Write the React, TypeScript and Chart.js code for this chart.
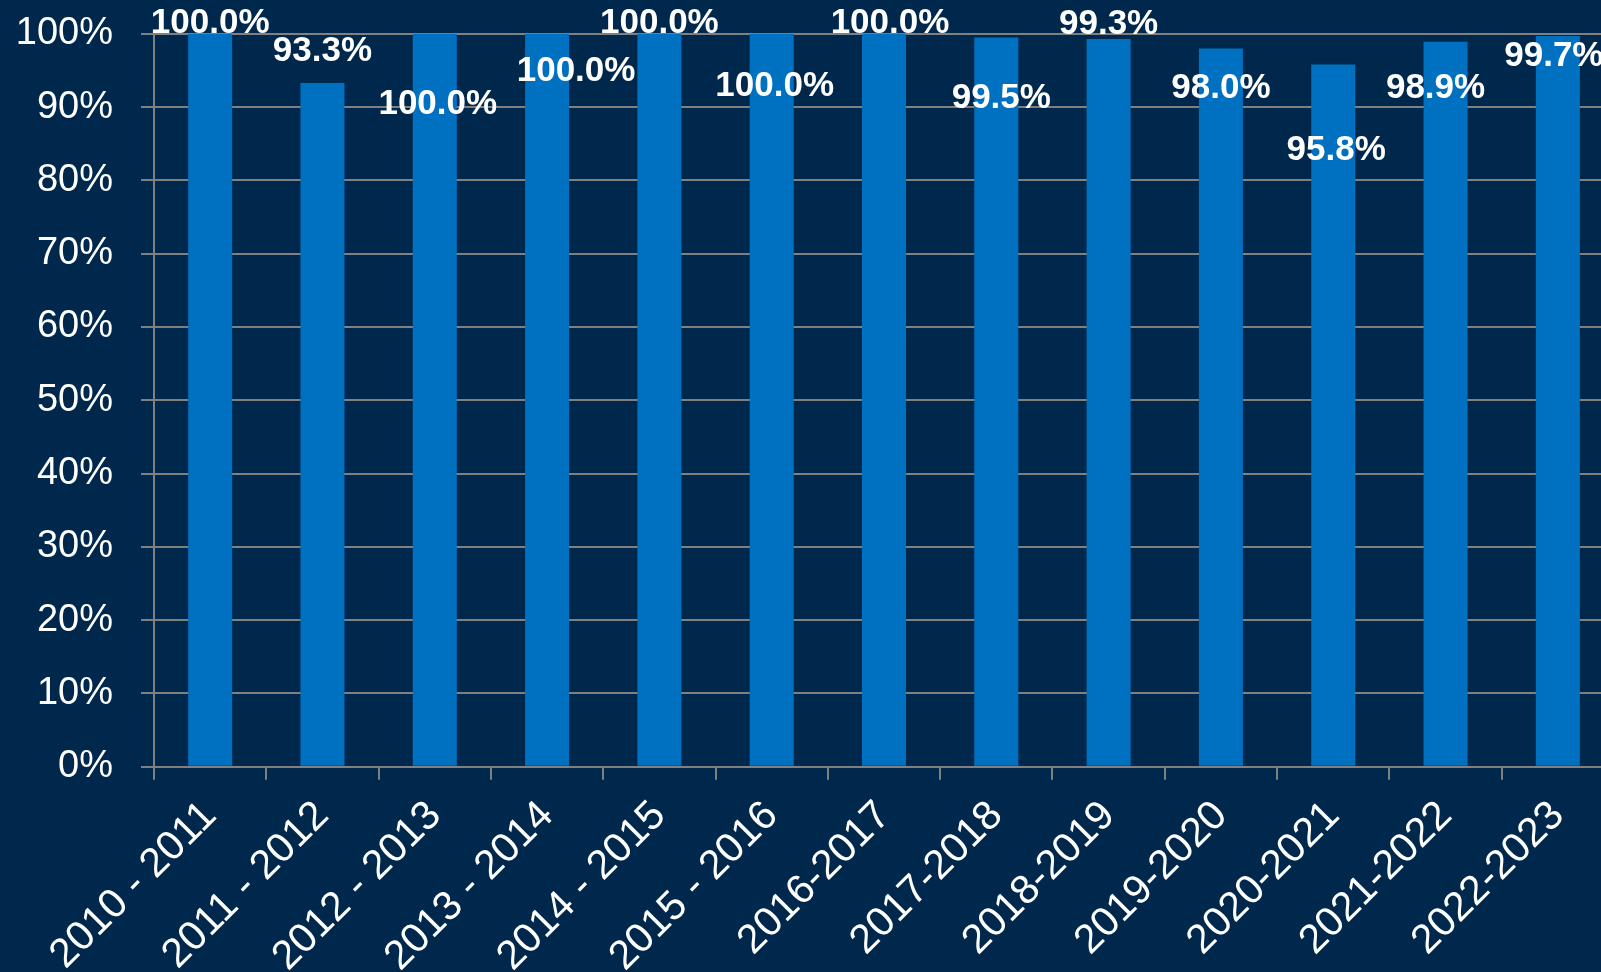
import React, { useEffect, useRef } from "react";
import { Chart, registerables } from "chart.js";

Chart.register(...registerables);

const categories = [
  "2010 - 2011",
  "2011 - 2012",
  "2012 - 2013",
  "2013 - 2014",
  "2014 - 2015",
  "2015 - 2016",
  "2016-2017",
  "2017-2018",
  "2018-2019",
  "2019-2020",
  "2020-2021",
  "2021-2022",
  "2022-2023",
];

const values = [100.0, 93.3, 100.0, 100.0, 100.0, 100.0, 100.0, 99.5, 99.3, 98.0, 95.8, 98.9, 99.7];

// label placement relative to the top-centre of each bar (pixels)
const labelOffsetX = [0, 0, 3, 29, 0, 3, 6, 5, 0, 0, 3, -10, -4];
const labelOffsetY = [-10, -32, 71, 38, -10, 53, -10, 61, -15, 40, 86, 46, 20];

const BG = "#00284C";
const BAR = "#0070C0";
const GRID = "#808080";
const FONT = "'Liberation Sans', Arial, Helvetica, sans-serif";
const SHIFT = 17;

const labelPlugin = {
  id: "barLabels",
  afterDatasetsDraw(chart: any) {
    const ctx = chart.ctx;
    const meta = chart.getDatasetMeta(0);
    ctx.save();
    ctx.fillStyle = "#FFFFFF";
    ctx.font = `bold 35px ${FONT}`;
    ctx.textAlign = "center";
    ctx.textBaseline = "middle";
    meta.data.forEach((bar: any, i: number) => {
      const v = values[i];
      ctx.fillText(v.toFixed(1) + "%", bar.x + labelOffsetX[i], bar.y + labelOffsetY[i]);
    });
    ctx.restore();
  },
};

const bgPlugin = {
  id: "bg",
  beforeDraw(chart: any) {
    const ctx = chart.ctx;
    ctx.save();
    ctx.fillStyle = BG;
    ctx.fillRect(0, 0, chart.width, chart.height);
    ctx.restore();
  },
};

export default function App() {
  const ref = useRef<HTMLCanvasElement>(null);

  useEffect(() => {
    if (!ref.current) return;
    const chart = new Chart(ref.current, {
      type: "bar",
      data: {
        labels: categories,
        datasets: [
          {
            data: values,
            backgroundColor: BAR,
            borderWidth: 0,
            categoryPercentage: 1,
            barPercentage: 0.392,
          },
        ],
      },
      options: {
        responsive: false,
        animation: false,
        events: [],
        layout: { padding: { left: 0, right: 6, top: 0, bottom: 0 } },
        plugins: {
          legend: { display: false },
          tooltip: { enabled: false },
          title: { display: false },
        },
        scales: {
          x: {
            afterFit: (s: any) => {
              s.height = 205.3;
            },
            grid: {
              display: true,
              drawOnChartArea: false,
              drawTicks: true,
              tickLength: 13,
              color: GRID,
              lineWidth: 2,
            },
            border: { display: true, color: GRID, width: 2 },
            ticks: {
              color: "#FFFFFF",
              font: { family: FONT, size: 41 },
              maxRotation: 45,
              minRotation: 45,
              autoSkip: false,
              padding: 12,
            },
          },
          y: {
            min: 0,
            max: 100,
            afterFit: (s: any) => {
              s.width = 154;
            },
            grid: {
              color: GRID,
              lineWidth: 2,
              tickLength: 13,
              drawTicks: true,
            },
            border: { display: true, color: GRID, width: 2 },
            ticks: {
              stepSize: 10,
              color: "#FFFFFF",
              font: { family: FONT, size: 38 },
              padding: 28,
              callback: (v: any) => v + "%",
            },
          },
        },
      },
      plugins: [bgPlugin, labelPlugin],
    });
    return () => chart.destroy();
  }, []);

  return (
    <div
      style={{
        position: "fixed",
        left: 0,
        top: 0,
        width: 1601,
        height: 972,
        overflow: "hidden",
        background: BG,
      }}
    >
      <canvas
        ref={ref}
        width={1620}
        height={972 + SHIFT}
        style={{ display: "block", marginTop: -SHIFT }}
      />
    </div>
  );
}
